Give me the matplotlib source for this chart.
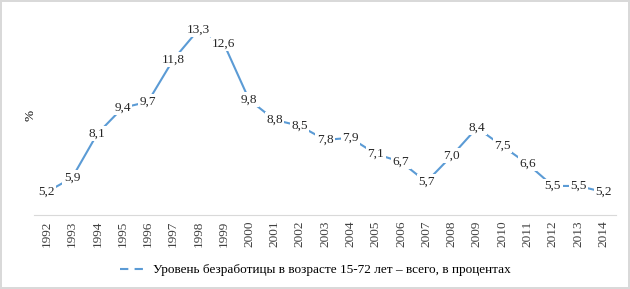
import matplotlib.pyplot as plt
from matplotlib.lines import Line2D

years = [str(y) for y in range(1992, 2015)]
unemployment = [5.2, 5.9, 8.1, 9.4, 9.7, 11.8, 13.3, 12.6, 9.8, 8.8, 8.5, 7.8,
                7.9, 7.1, 6.7, 5.7, 7.0, 8.4, 7.5, 6.6, 5.5, 5.5, 5.2]
series_name = "Уровень безработицы в возрасте 15-72 лет – всего, в процентах"

plt.rcParams['font.family'] = ['Liberation Serif', 'DejaVu Serif']

fig = plt.figure(figsize=(6.3, 2.89), dpi=100)
fig.patch.set_edgecolor('#d9d9d9')
fig.patch.set_linewidth(1.5)
ax = fig.add_axes([0.054, 0.256, 0.924, 0.69])

x = list(range(len(years)))
blue = '#5B9BD5'
ax.plot(x, unemployment, color=blue, linewidth=1.5, zorder=2)

for xi, v in zip(x, unemployment):
    ax.text(xi, v, f"{v:.1f}".replace('.', ','), ha='center', va='center',
            fontsize=9.5, color='#262626', zorder=3,
            bbox=dict(facecolor='white', edgecolor='none', pad=1.0))

ax.set_xlim(-0.5, len(years) - 0.5)
ax.set_ylim(4.05, 14.0)
ax.set_xticks(x)
ax.set_xticklabels(years, rotation=90, fontsize=9.5, color='#404040')
ax.set_yticks([])
ax.tick_params(axis='x', length=0, pad=4)
for side in ['top', 'right', 'left']:
    ax.spines[side].set_visible(False)
ax.spines['bottom'].set_color('#d9d9d9')
ax.set_ylabel('%', fontsize=9.5, labelpad=-2)

handle = Line2D([0], [0], color=blue, linewidth=1.5, linestyle=(0, (4, 3)))
fig.legend([handle], [series_name], loc='center', bbox_to_anchor=(0.50, 0.065),
           frameon=False, fontsize=9.5, handlelength=2.2, handletextpad=0.3)

fig.savefig('out.png', dpi=100)
